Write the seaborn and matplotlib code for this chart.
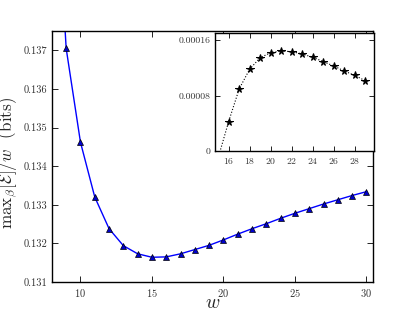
import matplotlib
matplotlib.use("Agg")
import matplotlib.pyplot as plt
import seaborn as sns
import pandas as pd
from matplotlib.ticker import FormatStrFormatter

# main curve: max over beta of E / w
w_main = [8, 9, 10, 11, 12, 13, 14, 15, 16, 17, 18, 19, 20, 21, 22, 23, 24, 25, 26, 27, 28, 29, 30]
e_main = [0.1434, 0.13705, 0.13462, 0.13320, 0.13238, 0.13194, 0.13173, 0.13164, 0.13165,
          0.13173, 0.13184, 0.13195, 0.13209, 0.13224, 0.13238, 0.13251, 0.13265, 0.13278,
          0.13290, 0.13302, 0.13313, 0.13324, 0.13334]

# inset curve
w_ins = [15, 16, 17, 18, 19, 20, 21, 22, 23, 24, 25, 26, 27, 28, 29]
e_ins = [-0.00001, 0.0000426, 0.0000897, 0.0001183, 0.0001348, 0.0001421, 0.0001444, 0.0001435,
         0.0001401, 0.0001353, 0.000129, 0.0001227, 0.0001154, 0.0001091, 0.0001013]

main_yticks = [0.131, 0.132, 0.133, 0.134, 0.135, 0.136, 0.137]
main_xticks = [10, 15, 20, 25, 30]
ins_xticks = [16, 18, 20, 22, 24, 26, 28]
ins_yticks = [0, 0.00008, 0.00016]
ins_ylabels = ["0", "0.00008", "0.00016"]

df_main = pd.DataFrame({"w": w_main, "e": e_main})
df_ins = pd.DataFrame({"w": w_ins, "e": e_ins})

sns.set_style("ticks")
plt.rcParams["font.family"] = "serif"
plt.rcParams["font.serif"] = ["cmr10", "DejaVu Serif"]
plt.rcParams["mathtext.fontset"] = "cm"
plt.rcParams["axes.formatter.use_mathtext"] = True
plt.rcParams["axes.unicode_minus"] = False

fig = plt.figure(figsize=(4.15, 3.14), dpi=100)
ax = fig.add_axes([0.125, 0.102, 0.7735, 0.799])

sns.lineplot(data=df_main, x="w", y="e", ax=ax, color="#0000ff", lw=1.0,
             marker="^", markersize=5, markerfacecolor="#0000cc", markeredgecolor="black",
             markeredgewidth=0.5)
ax.set_xlim(8, 30.45)
ax.set_ylim(0.131, 0.1375)
ax.set_xticks(main_xticks)
ax.set_yticks(main_yticks)
ax.yaxis.set_major_formatter(FormatStrFormatter("%.3f"))
ax.tick_params(direction="in", top=True, right=True, labelsize=7.5, length=4, width=0.6,
               colors="black", labelcolor="#333333")
ax.set_xlabel(r"$w$", fontsize=14)
# \mathrm{max} so beta stays a normal subscript (mathtext puts it under \max)
ax.set_ylabel(r"$\mathrm{max}_\beta[\mathcal{E}]/w$  (bits)", fontsize=12.3)
ax.xaxis.set_label_coords(0.5, -0.05)
ax.yaxis.set_label_coords(-0.098, 0.475)
for s in ax.spines.values():
    s.set_linewidth(1.0)
    s.set_color("black")

# inset
ax2 = fig.add_axes([0.518, 0.519, 0.383, 0.375])
sns.lineplot(data=df_ins, x="w", y="e", ax=ax2, color="black", lw=0.8, linestyle=":",
             marker="*", markersize=5.5, markerfacecolor="black", markeredgecolor="black")
ax2.set_xlim(14.7, 29.8)
ax2.set_ylim(0, 0.00017)
ax2.set_xticks(ins_xticks)
ax2.set_yticks(ins_yticks)
ax2.set_yticklabels(ins_ylabels)
ax2.set_xlabel("")
ax2.set_ylabel("")
ax2.tick_params(direction="in", top=True, right=True, labelsize=7, length=3.5, width=0.6,
                colors="black", labelcolor="#333333")
for s in ax2.spines.values():
    s.set_linewidth(1.0)
    s.set_color("black")

fig.savefig("out.png", dpi=100)
